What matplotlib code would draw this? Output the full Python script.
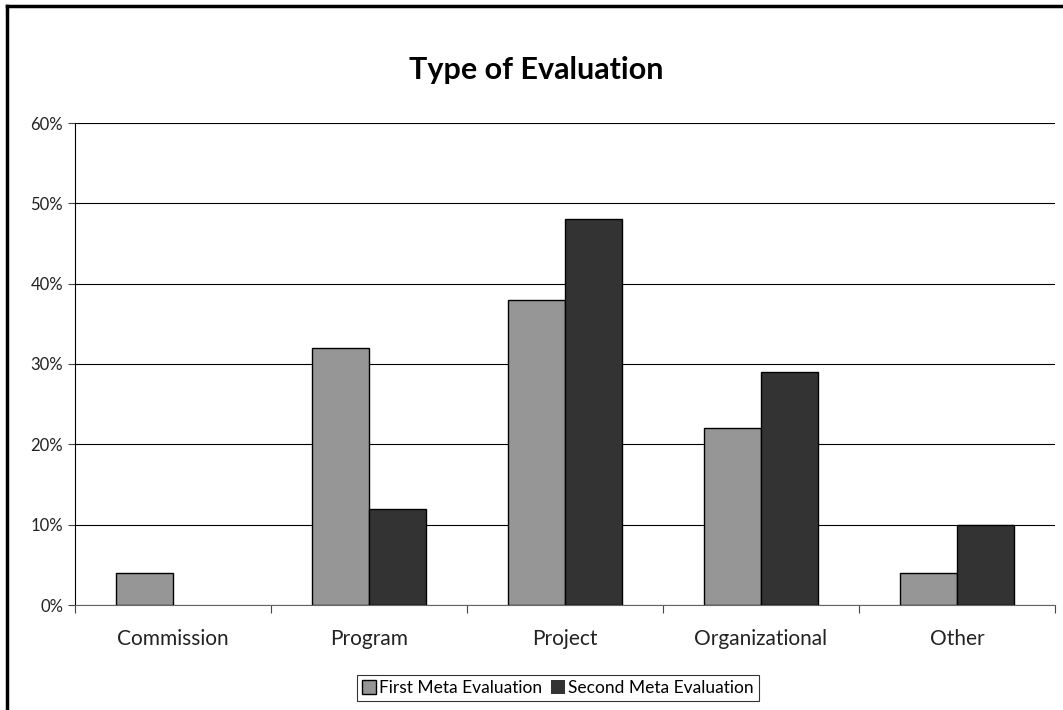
import matplotlib.pyplot as plt
import numpy as np
from matplotlib.lines import Line2D

plt.rcParams['font.family'] = ['Lato', 'DejaVu Sans']

categorias = ["Commission", "Program", "Project", "Organizational", "Other"]
primera = [4, 32, 38, 22, 4]
segunda = [0, 12, 48, 29, 10]
series = ["First Meta Evaluation", "Second Meta Evaluation"]

fig = plt.figure(figsize=(10.63, 7.1), dpi=100)
ax = fig.add_axes([75 / 1063, 1 - 605 / 710, 980 / 1063, 482 / 710])

x = np.arange(len(categorias))
ancho = 0.29
# sin borde para barras de valor cero
bordes1 = [1 if v > 0 else 0 for v in primera]
bordes2 = [1 if v > 0 else 0 for v in segunda]
ax.bar(x - ancho / 2, primera, ancho, color="#969696", edgecolor="black", linewidth=bordes1, label=series[0], zorder=3)
ax.bar(x + ancho / 2, segunda, ancho, color="#333333", edgecolor="black", linewidth=bordes2, label=series[1], zorder=3)

ax.set_xlim(-0.5, len(categorias) - 0.5)
ax.set_ylim(0, 60)
ax.set_yticks(range(0, 61, 10))
ax.set_yticklabels([f"{v}%" for v in range(0, 61, 10)], fontsize=12, color="#222222")
ax.yaxis.grid(True, color="black", linewidth=0.8, zorder=0)

# ticks entre grupos, etiquetas en el centro
ax.set_xticks(np.arange(-0.5, len(categorias), 1))
ax.set_xticklabels([])
ax.set_xticks(x, minor=True)
ax.set_xticklabels(categorias, minor=True, fontsize=15, color="#222222")
ax.tick_params(axis="x", which="minor", length=0, pad=17)
ax.tick_params(axis="x", which="major", length=6, color="#444444")
ax.tick_params(axis="y", length=5, color="#444444")

for lado in ["top", "right"]:
    ax.spines[lado].set_visible(False)
ax.spines["bottom"].set_color("#666666")
ax.spines["left"].set_color("black")

fig.text(536 / 1063, 1 - 70 / 710, "Type of Evaluation", ha="center", va="center", fontsize=22, fontweight="bold")

leg = fig.legend(loc="center", bbox_to_anchor=(558 / 1063, 1 - 688 / 710), ncol=2, fontsize=12.5,
                 frameon=True, fancybox=False, edgecolor="black", handlelength=0.8, handleheight=0.8,
                 handletextpad=0.2, columnspacing=0.5, borderpad=0.3)
leg.get_frame().set_linewidth(0.8)

# marco del gráfico
fig.add_artist(Line2D([7 / 1063, 7 / 1063], [0, 1 - 6 / 710], transform=fig.transFigure, color="black", linewidth=2.5))
fig.add_artist(Line2D([7 / 1063, 1], [1 - 6 / 710, 1 - 6 / 710], transform=fig.transFigure, color="black", linewidth=2.5))

fig.savefig("out.png", dpi=100)
